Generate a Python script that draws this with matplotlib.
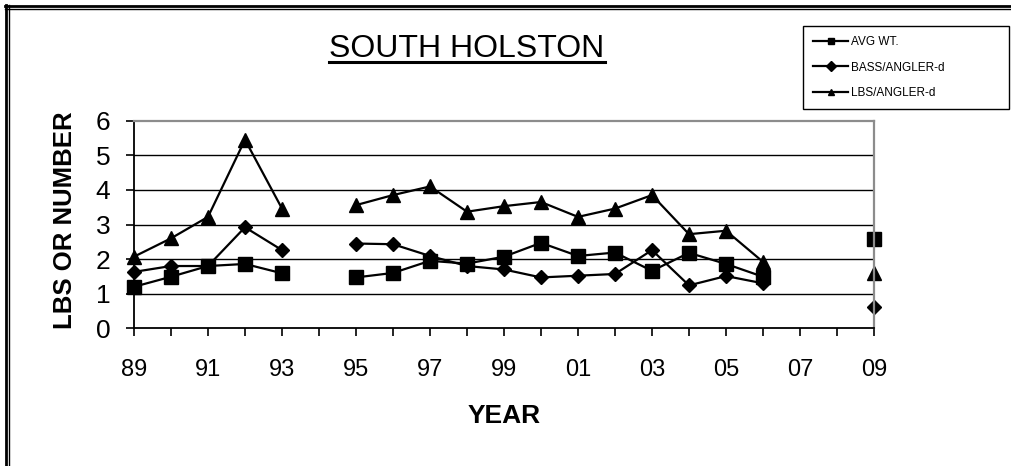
import numpy as np
import matplotlib
matplotlib.use("Agg")
import matplotlib.pyplot as plt
from matplotlib.lines import Line2D

plt.rcParams['font.family'] = ['Liberation Sans', 'DejaVu Sans']

years = ["89", "90", "91", "92", "93", "94", "95", "96", "97", "98", "99",
         "00", "01", "02", "03", "04", "05", "06", "07", "08", "09"]
nan = np.nan
avg_wt = [1.2, 1.49, 1.8, 1.86, 1.59, nan, 1.47, 1.6, 1.95, 1.87, 2.07,
          2.47, 2.09, 2.19, 1.66, 2.18, 1.86, 1.49, nan, nan, 2.57]
bass_angler = [1.63, 1.8, 1.8, 2.92, 2.26, nan, 2.45, 2.43, 2.09, 1.8, 1.7,
               1.47, 1.52, 1.57, 2.26, 1.24, 1.51, 1.3, nan, nan, 0.62]
lbs_angler = [2.07, 2.6, 3.22, 5.45, 3.46, nan, 3.56, 3.85, 4.1, 3.37, 3.53,
              3.65, 3.22, 3.46, 3.85, 2.72, 2.82, 1.92, nan, nan, 1.6]
tick_labels = [y if i % 2 == 0 else "" for i, y in enumerate(years)]

W, H = 1011, 466
fig = plt.figure(figsize=(W / 100, H / 100), dpi=100)
ax = fig.add_axes([134 / W, 1 - 328.3 / H, 740 / W, 207.6 / H])

x = np.arange(len(years))
series = [
    (avg_wt, "s", 9.5, "AVG WT."),
    (bass_angler, "D", 7, "BASS/ANGLER-d"),
    (lbs_angler, "^", 10.5, "LBS/ANGLER-d"),
]
for vals, mk, ms, lab in series:
    ax.plot(x, vals, color="black", lw=1.6, marker=mk, ms=ms,
            markerfacecolor="black", markeredgecolor="black", clip_on=False)

ax.set_xlim(0, len(years) - 1)
ax.set_ylim(0, 6)
ax.set_xticks(x)
ax.set_xticklabels(tick_labels, fontsize=17)
ax.set_yticks(range(7))
ax.tick_params(axis="x", direction="out", length=6, width=1.2, pad=16)
ax.tick_params(axis="y", direction="out", length=6, width=1.2, pad=11,
               labelsize=19)
for yv in range(1, 6):
    ax.axhline(yv, color="black", lw=1.0, zorder=0)
for s in ("left", "bottom"):
    ax.spines[s].set_color("black")
    ax.spines[s].set_linewidth(1.3)
for s in ("top", "right"):
    ax.spines[s].set_color("#8c8c8c")
    ax.spines[s].set_linewidth(1.6)

ax.set_xlabel("YEAR", fontsize=19, fontweight="bold", labelpad=17)
fig.text(65 / W, 1 - 220 / H, "LBS OR NUMBER", rotation=90, fontsize=18.5,
         fontweight="bold", ha="center", va="center")
fig.text(467 / W, 1 - 57 / H, "SOUTH HOLSTON", fontsize=23,
         ha="center", va="baseline")
fig.add_artist(Line2D([329 / W, 605 / W], [1 - 62 / H, 1 - 62 / H],
                      color="black", lw=2.2, transform=fig.transFigure))

# legend
handles = [Line2D([0], [0], color="black", lw=1.6, marker=mk, ms=5)
           for _, mk, _, _ in series]
leg = fig.legend(handles, [s[3] for s in series], loc="upper left",
                 bbox_to_anchor=(803 / W, 1 - 106 / H, 206 / W, 80 / H),
                 mode="expand", borderaxespad=0,
                 fontsize=8.5, handlelength=3.0, handletextpad=0.2,
                 labelspacing=1.15, borderpad=0.85, fancybox=False,
                 edgecolor="black", framealpha=1)
leg.get_frame().set_linewidth(1.0)

# outer frame (double line at top and left)
for pos, lw in ((6 / W, 2.0), (8.8 / W, 1.0)):
    fig.add_artist(Line2D([pos, pos], [0, 1 - 5 / H], color="black", lw=lw,
                          transform=fig.transFigure))
for pos, lw in ((6 / H, 2.0), (8.8 / H, 1.0)):
    fig.add_artist(Line2D([5 / W, 1], [1 - pos, 1 - pos], color="black",
                          lw=lw, transform=fig.transFigure))

fig.savefig("out.png", dpi=100)
